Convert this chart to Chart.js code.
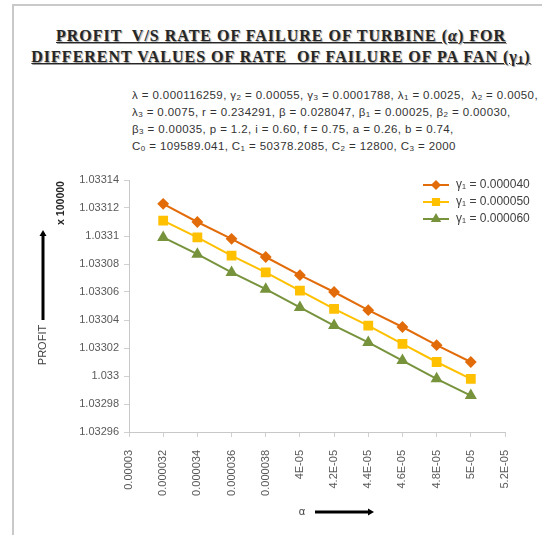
<!DOCTYPE html>
<html>
<head>
<meta charset="utf-8">
<script src="https://cdn.jsdelivr.net/npm/chart.js@4.4.1/dist/chart.umd.min.js"></script>
<style>
  html, body { margin: 0; padding: 0; background: #fff; }
  #wrap { position: relative; width: 542px; height: 535px; overflow: hidden; }
  #frame { position: absolute; left: 12px; top: 4px; width: 540px; height: 540px;
           border-left: 2px solid #c9c9c9; border-top: 2px solid #c9c9c9; box-sizing: border-box; }
  #title { position: absolute; left: 0px; top: 25px; width: 562px; text-align: center;
           font-family: "Liberation Serif", serif; font-weight: bold; font-size: 16px; line-height: 21px;
           letter-spacing: 1px; color: #262626; text-shadow: 1px 1px 1px #999; white-space: pre; }
  #title span { text-decoration: underline; }
  #params { position: absolute; left: 132px; top: 87px; font-family: "Liberation Sans", sans-serif;
            font-size: 11.5px; line-height: 17px; letter-spacing: 0.4px; color: #333; white-space: pre; }
  #params sub, #title sub { font-size: 70%; vertical-align: -1px; line-height: 0; }
  canvas { position: absolute; left: 0; top: 0; }
</style>
</head>
<body>
<div id="wrap">
  <div id="frame"></div>
  <div id="title"><span>PROFIT  V/S RATE OF FAILURE OF TURBINE (<i>α</i>) FOR</span>
<span>DIFFERENT VALUES OF RATE  OF FAILURE OF PA FAN (γ<sub>1</sub>)</span></div>
  <div id="params">λ = 0.000116259, γ<sub>2</sub> = 0.00055, γ<sub>3</sub> = 0.0001788, λ<sub>1</sub> = 0.0025,  λ<sub>2</sub> = 0.0050,
λ<sub>3</sub> = 0.0075, r = 0.234291, β = 0.028047, β<sub>1</sub> = 0.00025, β<sub>2</sub> = 0.00030,
β<sub>3</sub> = 0.00035, p = 1.2, i = 0.60, f = 0.75, a = 0.26, b = 0.74,
C<sub>0</sub> = 109589.041, C<sub>1</sub> = 50378.2085, C<sub>2</sub> = 12800, C<sub>3</sub> = 2000</div>
  <canvas id="myChart" width="542" height="535"></canvas>
</div>
<script>
// valeurs
var alphaValues = [0.000032, 0.000034, 0.000036, 0.000038, 0.000040, 0.000042, 0.000044, 0.000046, 0.000048, 0.000050];
var profitGamma40 = [1.033123, 1.033110, 1.033098, 1.033085, 1.033072, 1.033060, 1.033047, 1.033035, 1.033022, 1.033010];
var profitGamma50 = [1.033111, 1.033099, 1.033086, 1.033074, 1.033061, 1.033048, 1.033036, 1.033023, 1.033010, 1.032998];
var profitGamma60 = [1.033099, 1.033087, 1.033074, 1.033062, 1.033049, 1.033036, 1.033024, 1.033011, 1.032998, 1.032986];
var seriesLabels = ['γ₁ = 0.000040', 'γ₁ = 0.000050', 'γ₁ = 0.000060'];

var xTickValues = [0.000030, 0.000032, 0.000034, 0.000036, 0.000038, 0.000040, 0.000042, 0.000044, 0.000046, 0.000048, 0.000050, 0.000052];
var xTickLabels = ['0.00003', '0.000032', '0.000034', '0.000036', '0.000038', '4E-05', '4.2E-05', '4.4E-05', '4.6E-05', '4.8E-05', '5E-05', '5.2E-05'];
var yTickValues = [1.03296, 1.03298, 1.03300, 1.03302, 1.03304, 1.03306, 1.03308, 1.03310, 1.03312, 1.03314];
var yTickLabels = ['1.03296', '1.03298', '1.033', '1.03302', '1.03304', '1.03306', '1.03308', '1.0331', '1.03312', '1.03314'];

function toPoints(values) {
  return alphaValues.map(function (a, i) { return { x: a, y: values[i] }; });
}

// flèche épaisse
function drawArrow(ctx, x1, y1, x2, y2) {
  var ang = Math.atan2(y2 - y1, x2 - x1);
  ctx.save();
  ctx.strokeStyle = '#000';
  ctx.fillStyle = '#000';
  ctx.lineWidth = 3;
  ctx.beginPath();
  ctx.moveTo(x1, y1);
  ctx.lineTo(x2 - 4 * Math.cos(ang), y2 - 4 * Math.sin(ang));
  ctx.stroke();
  ctx.translate(x2, y2);
  ctx.rotate(ang);
  ctx.beginPath();
  ctx.moveTo(0, 0);
  ctx.lineTo(-6, -3.5);
  ctx.lineTo(-6, 3.5);
  ctx.closePath();
  ctx.fill();
  ctx.restore();
}

var decorations = {
  id: 'decorations',
  afterDraw: function (chart) {
    var ctx = chart.ctx;
    ctx.save();
    // titre axe Y
    ctx.fillStyle = '#404040';
    ctx.font = '11px "Liberation Sans", sans-serif';
    ctx.textAlign = 'center';
    ctx.textBaseline = 'middle';
    ctx.save();
    ctx.translate(43, 345);
    ctx.rotate(-Math.PI / 2);
    ctx.fillText('PROFIT', 0, 0);
    ctx.restore();
    ctx.save();
    ctx.translate(61, 203);
    ctx.rotate(-Math.PI / 2);
    ctx.font = 'bold 10.5px "Liberation Sans", sans-serif';
    ctx.fillStyle = '#262626';
    ctx.fillText('x 100000', 0, 0);
    ctx.restore();
    drawArrow(ctx, 43, 320, 43, 230);
    // titre axe X
    ctx.fillText('α', 302, 512);
    drawArrow(ctx, 315, 512, 374, 512);

    // légende
    var y0 = 185;
    chart.data.datasets.forEach(function (ds, i) {
      var y = y0 + i * 17;
      ctx.strokeStyle = ds.borderColor;
      ctx.lineWidth = 2;
      ctx.beginPath();
      ctx.moveTo(423, y);
      ctx.lineTo(449, y);
      ctx.stroke();
      Chart.helpers.drawPoint(ctx, {
        pointStyle: ds.pointStyle, radius: ds.pointRadius * 0.8, borderWidth: 1
      }, 436, y);
      ctx.fillStyle = ds.borderColor;
      ctx.fill();
      ctx.fillStyle = '#404040';
      ctx.textAlign = 'left';
      ctx.font = '12px "Liberation Sans", sans-serif';
      ctx.fillText(ds.label, 456, y);
    });
    ctx.restore();
  }
};

var graphique = document.getElementById('myChart').getContext('2d');
var chart = new Chart(graphique, {
  type: 'line',
  data: {
    datasets: [{
      label: seriesLabels[0],
      data: toPoints(profitGamma40),
      borderColor: '#E26B0A',
      backgroundColor: '#E26B0A',
      pointStyle: 'rectRot',
      pointRadius: 4.5,
      borderWidth: 2
    }, {
      label: seriesLabels[1],
      data: toPoints(profitGamma50),
      borderColor: '#FFC000',
      backgroundColor: '#FFC000',
      pointStyle: 'rect',
      pointRadius: 5.5,
      borderWidth: 2
    }, {
      label: seriesLabels[2],
      data: toPoints(profitGamma60),
      borderColor: '#77933C',
      backgroundColor: '#77933C',
      pointStyle: 'triangle',
      pointRadius: 5,
      borderWidth: 2
    }]
  },
  options: {
    responsive: false,
    animation: false,
    layout: { padding: { top: 180, right: 37, left: 0, bottom: 0 } },
    plugins: { legend: { display: false }, tooltip: { enabled: false } },
    scales: {
      x: {
        type: 'linear',
        min: 0.00003,
        max: 0.000052,
        afterBuildTicks: function (scale) {
          scale.ticks = xTickValues.map(function (v) { return { value: v }; });
        },
        afterFit: function (scale) { scale.height = 103; },
        ticks: {
          minRotation: 90,
          maxRotation: 90,
          padding: 13,
          color: '#595959',
          font: { family: 'Liberation Sans', size: 11 },
          callback: function (value, index) { return xTickLabels[index]; }
        },
        grid: { drawOnChartArea: false, tickLength: 5, color: '#d0d0d0' },
        border: { color: '#c8c8c8' }
      },
      y: {
        min: 1.03296,
        max: 1.03314,
        afterBuildTicks: function (scale) {
          scale.ticks = yTickValues.map(function (v) { return { value: v }; });
        },
        afterFit: function (scale) { scale.width = 129; },
        ticks: {
          padding: 5,
          color: '#595959',
          font: { family: 'Liberation Sans', size: 11 },
          callback: function (value, index) { return yTickLabels[index]; }
        },
        grid: { drawOnChartArea: false, tickLength: 5, color: '#d0d0d0' },
        border: { color: '#c8c8c8' }
      }
    }
  },
  plugins: [decorations]
});
</script>
</body>
</html>
